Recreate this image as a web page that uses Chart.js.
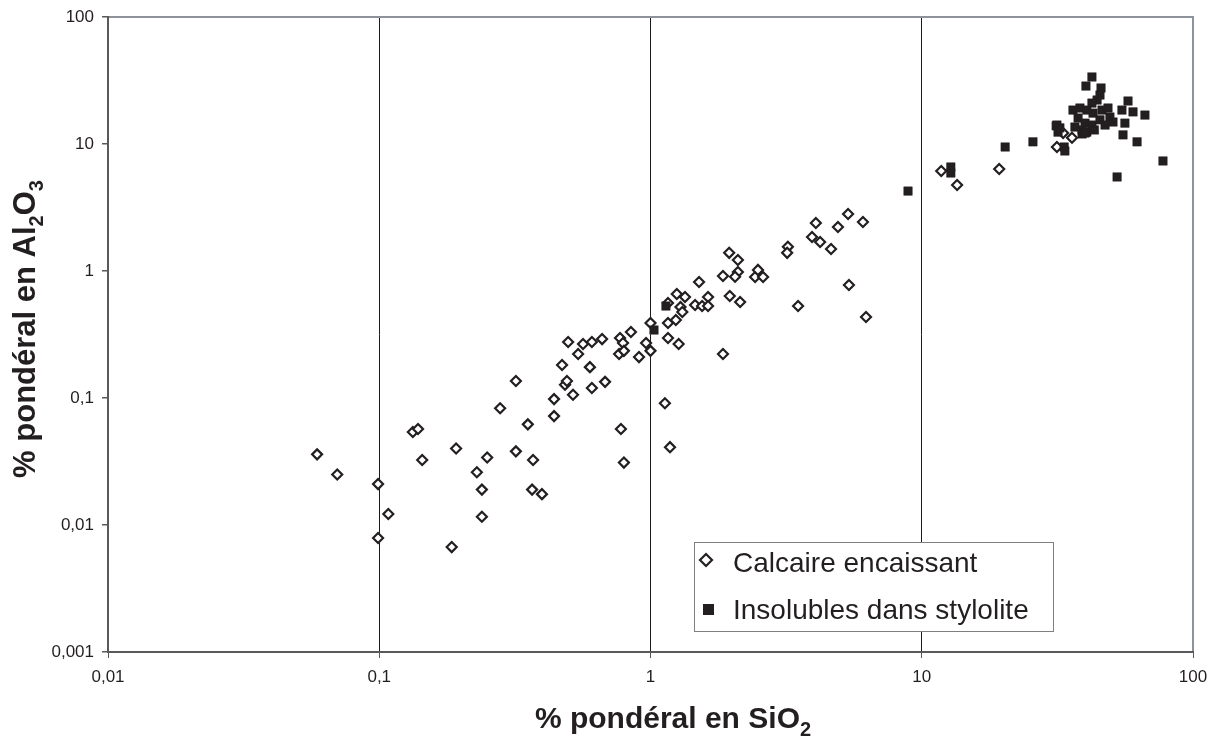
<!DOCTYPE html>
<html>
<head>
<meta charset="utf-8">
<title>Al2O3 vs SiO2</title>
<script src="https://cdn.jsdelivr.net/npm/chart.js@4/dist/chart.umd.min.js"></script>
<style>
  body { margin: 0; background: #fff; }
</style>
</head>
<body>
<canvas id="myChart" width="1214" height="738"></canvas>
<script>
// tick values for the two log axes
const xTicks = [0.01, 0.1, 1, 10, 100];
const yTicks = [0.001, 0.01, 0.1, 1, 10, 100];

// Calcaire encaissant (open diamonds)
const calcaireSiO2 = [0.059, 0.070, 0.099, 0.099, 0.108, 0.185, 0.133, 0.139, 0.144, 0.192,
  0.250, 0.229, 0.239, 0.239, 0.279, 0.319, 0.353, 0.369, 0.366, 0.398,
  0.319, 0.441, 0.441, 0.484, 0.492, 0.518, 0.608, 0.680, 0.778, 0.798,
  0.472, 0.598, 0.497, 0.541, 0.564, 0.608, 0.663, 0.772, 0.792, 0.847,
  0.766, 0.798, 0.907, 0.963, 1.00, 1.00, 1.16, 1.16, 1.24, 1.16,
  1.27, 1.25, 1.34, 1.29, 1.31, 1.46, 1.55, 1.63, 1.63, 1.51,
  1.85, 1.96, 2.14, 1.85, 2.10, 1.95, 2.10, 2.05, 2.43, 2.49,
  2.60, 3.21, 3.19, 3.50, 3.94, 4.07, 4.22, 4.63, 4.91, 5.35,
  6.07, 5.39, 6.23, 1.18, 1.13, 11.8, 13.5, 19.3, 33.2, 31.5, 35.8];
const calcaireAl2O3 = [0.036, 0.025, 0.021, 0.0079, 0.0122, 0.0067, 0.054, 0.057, 0.0325, 0.040,
  0.034, 0.026, 0.019, 0.0116, 0.083, 0.038, 0.062, 0.0325, 0.019, 0.0175,
  0.136, 0.098, 0.072, 0.127, 0.136, 0.106, 0.120, 0.134, 0.057, 0.031,
  0.182, 0.175, 0.276, 0.222, 0.266, 0.276, 0.291, 0.297, 0.271, 0.331,
  0.222, 0.235, 0.210, 0.271, 0.235, 0.390, 0.560, 0.390, 0.411, 0.297,
  0.266, 0.659, 0.624, 0.521, 0.476, 0.540, 0.530, 0.624, 0.530, 0.819,
  0.222, 0.636, 0.570, 0.913, 0.982, 1.39, 1.22, 0.90, 0.897, 1.02,
  0.897, 1.55, 1.39, 0.530, 1.85, 2.39, 1.69, 1.49, 2.22, 2.81,
  2.43, 0.776, 0.434, 0.041, 0.091, 6.13, 4.75, 6.36, 12.2, 9.47, 11.2];

// Insolubles dans stylolite (filled squares)
const styloSiO2 = [1.03, 1.14, 8.90, 12.8, 12.8, 20.3, 25.7, 31.3, 31.8, 33.5,
  33.7, 39.0, 40.6, 42.4, 40.3, 45.8, 45.4, 44.3, 42.4, 36.1,
  38.3, 40.6, 42.8, 46.2, 48.6, 49.4, 50.7, 37.7, 40.0, 42.4,
  39.0, 40.0, 57.6, 54.7, 60.1, 66.5, 56.1, 55.2, 62.2, 77.5,
  52.5, 31.5, 32.3, 45.4, 47.4, 36.7, 43.3];
const styloAl2O3 = [0.343, 0.530, 4.26, 6.59, 5.91, 9.47, 10.4, 13.9, 12.4, 9.47,
  8.81, 12.0, 12.4, 33.7, 28.6, 27.6, 24.3, 22.2, 21.0, 18.5,
  19.2, 18.5, 17.5, 18.5, 19.2, 16.3, 14.9, 16.0, 14.6, 14.1,
  12.9, 12.2, 21.8, 18.5, 17.9, 16.9, 14.6, 11.8, 10.4, 7.35,
  5.50, 14.1, 13.4, 15.5, 14.1, 13.6, 12.9];

const seriesNames = ["Calcaire encaissant", "Insolubles dans stylolite"];
const xTitle = ["% pondéral en SiO", "2"];
const yTitle = ["% pondéral en Al", "2", "O", "3"];

const ink = "#231f20";
const fmt = v => String(v).replace(".", ",");
const toPoints = (xs, ys) => xs.map((x, i) => ({ x: x, y: ys[i] }));

// plot frame, drawn under the markers
const framePlugin = {
  id: "frame",
  beforeDatasetsDraw(chart) {
    const { ctx, chartArea: a } = chart;
    ctx.save();
    ctx.strokeStyle = "#8d939a";
    ctx.lineWidth = 2;
    ctx.strokeRect(a.left, a.top, a.right - a.left, a.bottom - a.top);
    ctx.strokeStyle = "#58595b";
    ctx.beginPath();
    ctx.moveTo(a.left, a.top - 1);
    ctx.lineTo(a.left, a.bottom);
    ctx.lineTo(a.right + 1, a.bottom);
    ctx.stroke();
    ctx.restore();
  }
};

function diamond(ctx, x, y, r) {
  ctx.beginPath();
  ctx.moveTo(x - r, y); ctx.lineTo(x, y - r); ctx.lineTo(x + r, y); ctx.lineTo(x, y + r);
  ctx.closePath();
}

// legend box inside the plot
const legendPlugin = {
  id: "boxLegend",
  afterDatasetsDraw(chart) {
    const ctx = chart.ctx;
    ctx.save();
    ctx.fillStyle = "#fff";
    ctx.fillRect(694, 542, 359, 89);
    ctx.strokeStyle = "#7f7f7f";
    ctx.lineWidth = 1;
    ctx.strokeRect(694.5, 542.5, 359, 89);
    diamond(ctx, 706, 560, 6);
    ctx.fillStyle = "#fff"; ctx.fill();
    ctx.strokeStyle = ink; ctx.lineWidth = 2.2; ctx.stroke();
    ctx.fillStyle = ink;
    ctx.fillRect(703, 604, 11, 11);
    ctx.font = "28px 'Liberation Sans', Arial, sans-serif";
    ctx.textBaseline = "alphabetic";
    ctx.fillText(seriesNames[0], 733, 572);
    ctx.fillText(seriesNames[1], 733, 619);
    ctx.restore();
  }
};

// axis titles with subscripts
function drawSubText(ctx, parts, cx, baseline, size) {
  const big = "bold " + size + "px 'Liberation Sans', Arial, sans-serif";
  const small = "bold " + Math.round(size * 0.66) + "px 'Liberation Sans', Arial, sans-serif";
  let w = 0;
  parts.forEach((t, i) => { ctx.font = i % 2 ? small : big; w += ctx.measureText(t).width; });
  let x = cx - w / 2;
  parts.forEach((t, i) => {
    ctx.font = i % 2 ? small : big;
    ctx.fillText(t, x, i % 2 ? baseline + size * 0.25 : baseline);
    x += ctx.measureText(t).width;
  });
}
const titlePlugin = {
  id: "axisTitles",
  afterDraw(chart) {
    const ctx = chart.ctx;
    ctx.save();
    ctx.fillStyle = ink;
    ctx.textAlign = "left";
    ctx.textBaseline = "alphabetic";
    drawSubText(ctx, xTitle, 673, 728, 30);
    ctx.translate(35, 329);
    ctx.rotate(-Math.PI / 2);
    drawSubText(ctx, yTitle, 0, 0, 31);
    ctx.restore();
  }
};

new Chart(document.getElementById("myChart"), {
  type: "scatter",
  data: {
    datasets: [
      { label: seriesNames[0], data: toPoints(calcaireSiO2, calcaireAl2O3), order: 1,
        pointStyle: "rectRot", radius: 5, borderWidth: 2.2, borderColor: ink, backgroundColor: "#fff" },
      { label: seriesNames[1], data: toPoints(styloSiO2, styloAl2O3), order: 0,
        pointStyle: "rect", radius: 6, borderWidth: 0.5, borderColor: ink, backgroundColor: ink }
    ]
  },
  options: {
    responsive: false,
    animation: false,
    devicePixelRatio: 1,
    layout: { padding: { top: 17, right: 21, left: 0, bottom: 0 } },
    plugins: { legend: { display: false }, tooltip: { enabled: false } },
    scales: {
      x: {
        type: "logarithmic", min: 0.01, max: 100,
        afterBuildTicks: s => { s.ticks = xTicks.map(v => ({ value: v })); },
        afterFit: s => { s.height = 86; s.paddingRight = 0; s.paddingLeft = 0; },
        border: { display: false },
        grid: {
          color: c => (c.tick && (c.tick.value === 0.01 || c.tick.value === 100)) ? "rgba(0,0,0,0)" : "#1a1a1a",
          lineWidth: 1, tickLength: 6, tickColor: "#58595b"
        },
        ticks: { callback: v => fmt(v), autoSkip: false, maxRotation: 0, padding: 9,
          color: ink, font: { family: "'Liberation Sans', Arial, sans-serif", size: 17 } }
      },
      y: {
        type: "logarithmic", min: 0.001, max: 100,
        afterBuildTicks: s => { s.ticks = yTicks.map(v => ({ value: v })); },
        afterFit: s => { s.width = 108; s.paddingTop = 0; s.paddingBottom = 0; },
        border: { display: false },
        grid: { drawOnChartArea: false, tickLength: 6, tickColor: "#58595b", lineWidth: 1.5 },
        ticks: { callback: v => fmt(v), autoSkip: false, padding: 8,
          color: ink, font: { family: "'Liberation Sans', Arial, sans-serif", size: 17 } }
      }
    }
  },
  plugins: [framePlugin, legendPlugin, titlePlugin]
});
</script>
</body>
</html>
